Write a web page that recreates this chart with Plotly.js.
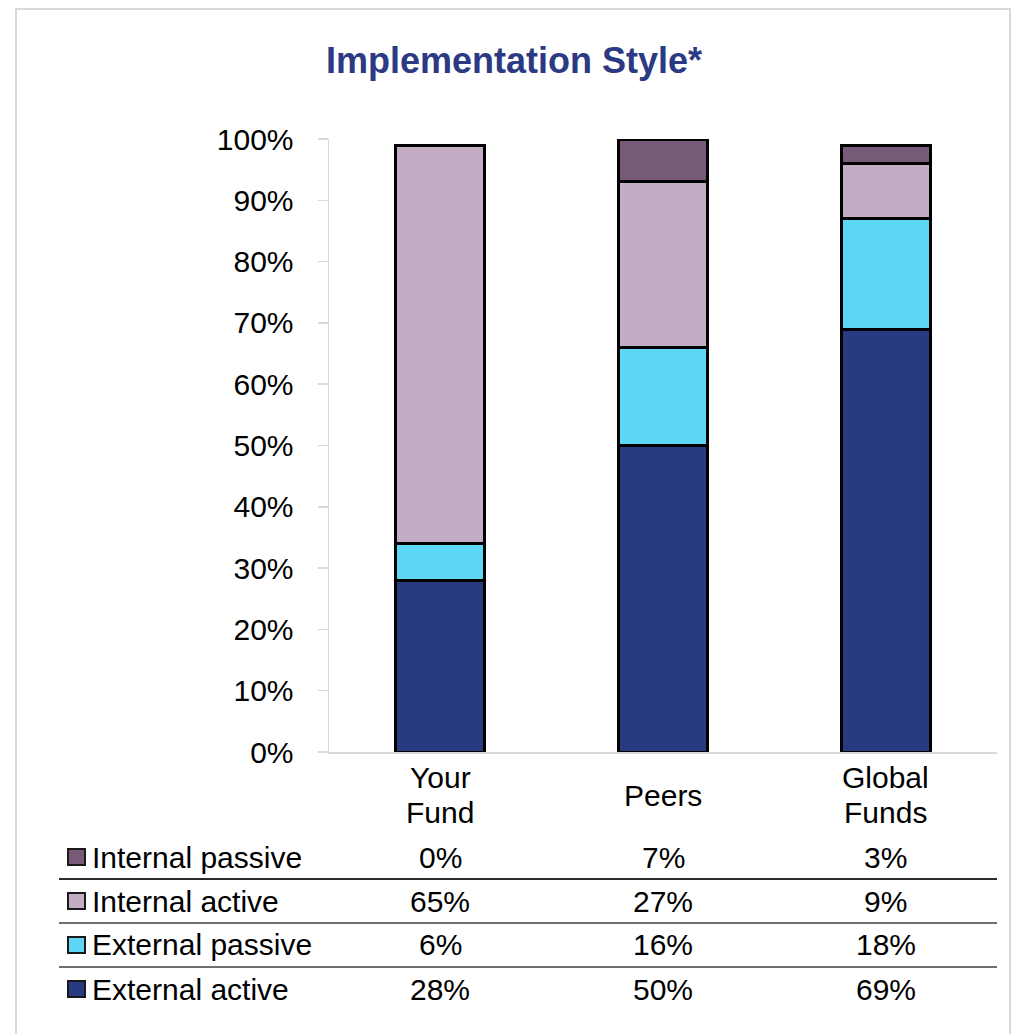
<!DOCTYPE html>
<html>
<head>
<meta charset="utf-8">
<script src="https://cdn.plot.ly/plotly-3.0.1.min.js"></script>
<style>
  html, body { margin: 0; padding: 0; background: #ffffff; }
  #chart { width: 1013px; height: 1034px; }
</style>
</head>
<body>
<div id="chart"></div>
<script>
// Fund groups shown as columns
const categories = ["Your Fund", "Peers", "Global Funds"];
const categoryLabels = ["Your<br>Fund", "Peers", "Global<br>Funds"];

// Share of assets by implementation style (percent)
const seriesNames = ["External active", "External passive", "Internal active", "Internal passive"];
const externalActive = [28, 50, 69];
const externalPassive = [6, 16, 18];
const internalActive = [65, 27, 9];
const internalPassive = [0, 7, 3];

const yTickVals = [0, 10, 20, 30, 40, 50, 60, 70, 80, 90, 100];
const yTickText = ["0%", "10%", "20%", "30%", "40%", "50%", "60%", "70%", "80%", "90%", "100%"];

const colors = {
  "External active": "#283A80",
  "External passive": "#5ED6F6",
  "Internal active": "#C3ADC4",
  "Internal passive": "#765A77"
};
const seriesValues = {
  "External active": externalActive,
  "External passive": externalPassive,
  "Internal active": internalActive,
  "Internal passive": internalPassive
};

// Page geometry (pixels)
const W = 1013, H = 1034;
const plotLeft = 329, plotRight = 997, plotTop = 139, plotBottom = 752;
const pw = plotRight - plotLeft, ph = plotBottom - plotTop;
const px = x => (x - plotLeft) / pw;
const py = y => (plotBottom - y) / ph;

const FONT = "Liberation Sans, Arial, Helvetica, sans-serif";
const TEXT_SIZE = 30;

const traces = seriesNames.map(name => ({
  type: "bar",
  name: name,
  x: categories,
  y: seriesValues[name],
  width: 0.4,
  marker: { color: colors[name], line: { color: "#000000", width: 3 } },
  hoverinfo: "x+y+name",
  showlegend: false
}));

// Table rows, top to bottom
const tableRows = ["Internal passive", "Internal active", "External passive", "External active"];
const rowY = [857, 901, 945, 989];
const sepY = [879, 923, 967];

const annotations = [];
const shapes = [];

// Category labels under the bars, one annotation per line for tight spacing
const labelCenterY = 795, labelLineGap = 35;
categories.forEach((c, i) => {
  const lines = categoryLabels[i].split("<br>");
  lines.forEach((line, k) => {
    const yc = labelCenterY + (k - (lines.length - 1) / 2) * labelLineGap;
    annotations.push({
      x: c, xref: "x", y: py(yc), yref: "paper",
      text: line, showarrow: false,
      xanchor: "center", yanchor: "middle",
      font: { family: FONT, size: TEXT_SIZE, color: "#000000" }
    });
  });
});

// Data table: swatch, series name, values per column
tableRows.forEach((name, r) => {
  const yc = rowY[r];
  shapes.push({
    type: "rect", xref: "paper", yref: "paper",
    x0: px(68), x1: px(85), y0: py(yc + 8), y1: py(yc - 8),
    fillcolor: colors[name], line: { color: "#1a1a1a", width: 2 }
  });
  annotations.push({
    x: px(90), xref: "paper", y: py(yc), yref: "paper",
    text: name, showarrow: false, xanchor: "left", yanchor: "middle",
    font: { family: FONT, size: TEXT_SIZE, color: "#000000" }
  });
  seriesValues[name].forEach((v, i) => {
    annotations.push({
      x: categories[i], xref: "x", y: py(yc), yref: "paper",
      text: v + "%", showarrow: false, xanchor: "center", yanchor: "middle",
      font: { family: FONT, size: TEXT_SIZE, color: "#000000" }
    });
  });
});

// Row separators
sepY.forEach((y, i) => {
  shapes.push({
    type: "line", xref: "paper", yref: "paper",
    x0: px(59), x1: px(997), y0: py(y), y1: py(y),
    line: { color: i === 0 ? "#2a2a2a" : "#6e6e6e", width: 2 }
  });
});

// Outer frame
shapes.push({
  type: "rect", xref: "paper", yref: "paper",
  x0: px(16), x1: px(1010), y0: py(9), y1: py(1045),
  line: { color: "#d9d9d9", width: 2 }, fillcolor: "rgba(0,0,0,0)", layer: "below"
});

const layout = {
  width: W, height: H, autosize: false,
  margin: { l: plotLeft, r: W - plotRight, t: plotTop, b: H - plotBottom, pad: 0 },
  paper_bgcolor: "#ffffff", plot_bgcolor: "#ffffff",
  barmode: "stack",
  showlegend: false,
  title: {
    text: "<b>Implementation Style*</b>",
    font: { family: FONT, size: 36, color: "#2B3A82" },
    xref: "paper", x: (514 - plotLeft) / pw, xanchor: "center",
    yref: "container", y: 1 - 60 / H, yanchor: "middle"
  },
  xaxis: {
    type: "category",
    showticklabels: false,
    showline: true, linecolor: "#d9d9d9", linewidth: 1.5,
    ticks: "", showgrid: false, zeroline: false, fixedrange: true
  },
  yaxis: {
    range: [0, 100],
    tickvals: yTickVals, ticktext: yTickText,
    ticks: "outside", ticklen: 10, tickcolor: "#d9d9d9", tickwidth: 1.5,
    ticklabelstandoff: 18,
    showline: true, linecolor: "#d9d9d9", linewidth: 1.5,
    showgrid: false, zeroline: false, fixedrange: true,
    tickfont: { family: FONT, size: TEXT_SIZE, color: "#000000" }
  },
  annotations: annotations,
  shapes: shapes
};

Plotly.newPlot("chart", traces, layout, { displayModeBar: false, staticPlot: true });
</script>
</body>
</html>
